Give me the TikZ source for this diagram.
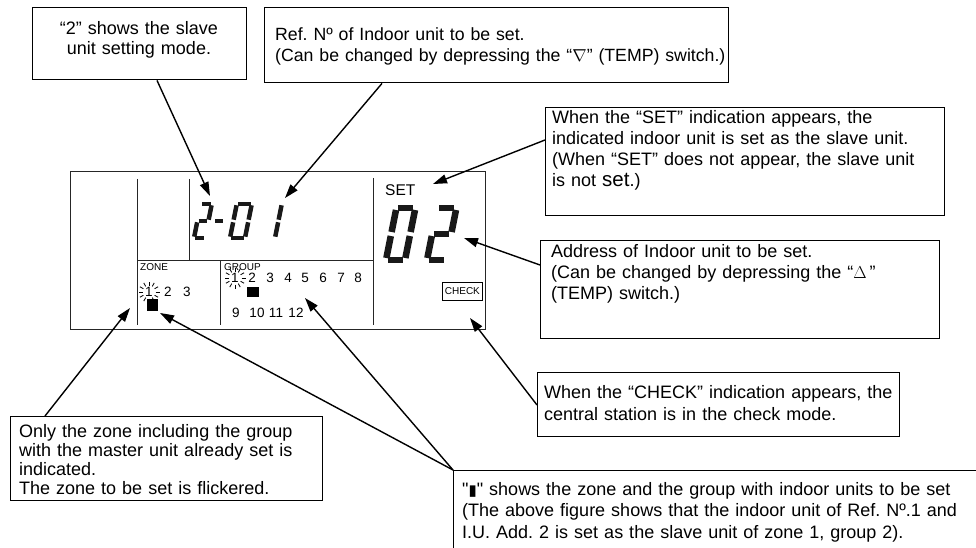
\documentclass[tikz,border=0pt]{standalone}
\usepackage{fontspec}
\setmainfont{Liberation Sans}[Ligatures=TeXOff]
\newfontfamily\dejavu{DejaVu Sans}
\usetikzlibrary{arrows.meta,calc}
\newcommand\segA{\draw[seg] (\dgG,\dgH) -- ({\dgW-\dgG},\dgH);}
\newcommand\segB{\draw[seg] (\dgW,{\dgH-\dgG}) -- (\dgW,{\dgH/2+\dgG});}
\newcommand\segC{\draw[seg] (\dgW,{\dgH/2-\dgG}) -- (\dgW,\dgG);}
\newcommand\segD{\draw[seg] (\dgG,0) -- ({\dgW-\dgG},0);}
\newcommand\segE{\draw[seg] (0,\dgG) -- (0,{\dgH/2-\dgG});}
\newcommand\segF{\draw[seg] (0,{\dgH/2+\dgG}) -- (0,{\dgH-\dgG});}
\newcommand\segG{\draw[seg] (\dgG,{\dgH/2}) -- ({\dgW-\dgG},{\dgH/2});}
\newcommand\burst[2]{\foreach \a in {0,30,...,330}{\draw[ray,shift={(#1,#2)}] (\a:6.5) -- (\a:10.5);}}
\frenchspacing
\begin{document}
\begin{tikzpicture}[x=1pt,y=-1pt,
  box/.style={draw, line width=1.4pt, inner sep=0pt, anchor=north west},
  txt/.style={inner sep=0pt, anchor=base west, align=left, text width=500pt, font=\fontsize{18}{20.7}\selectfont},
  ctxt/.style={inner sep=0pt, anchor=base, align=center, text width=214pt, font=\fontsize{18}{20}\selectfont},
  panel/.style={line width=0.9pt, draw=black!85},
  arr/.style={line width=1.4pt, -{Triangle[length=14pt,width=9pt]}},
  seg/.style={line width=\dgL, line cap=butt, draw=black!90},
  ray/.style={line width=0.8pt},
  lab/.style={inner sep=0pt, font=\fontsize{10}{10}\selectfont},
  num/.style={inner sep=0pt, font=\fontsize{13.5}{13.5}\selectfont},
]
\clip (0,0) rectangle (976,548);
\fill[white] (0,0) rectangle (976,548);

% ---- display panel
\draw[panel] (70,171) rectangle (485,329);
\draw[panel] (137,179) -- (137,325);
\draw[panel] (189,179) -- (189,260);
\draw[panel] (137,260) -- (373,260);
\draw[panel] (373,178) -- (373,325);
\draw[panel] (220,260) -- (220,325);

% small seven-segment "2-01"
\def\dgW{11}\def\dgH{34}\def\dgG{1.3}\def\dgL{4.5pt}
\begin{scope}[shift={(194,238)},x=1pt,y=1pt,xslant=0.2]
\segA\segB\segG\segE\segD
\end{scope}
\draw[seg] (215,221) -- (223,221);
\def\dgW{15}
\begin{scope}[shift={(230,238)},x=1pt,y=1pt,xslant=0.2]
\segA\segB\segC\segD\segE\segF
\end{scope}
\def\dgW{12}
\begin{scope}[shift={(263,238)},x=1pt,y=1pt,xslant=0.2]
\segB\segC
\end{scope}

% big seven-segment "02"
\def\dgW{19}\def\dgH{52}\def\dgG{2}\def\dgL{6.5pt}
\begin{scope}[shift={(386,260)},x=1pt,y=1pt,xslant=0.2]
\segA\segB\segC\segD\segE\segF
\end{scope}
\begin{scope}[shift={(427,260)},x=1pt,y=1pt,xslant=0.2]
\segA\segB\segG\segE\segD
\end{scope}

\node[inner sep=0pt, anchor=west, font=\fontsize{15.5}{15.5}\selectfont] (set) at (385,190.5) {SET};
\node[draw, line width=0.8pt, inner sep=0pt, minimum width=40pt, minimum height=18pt, anchor=north west, font=\fontsize{10}{10}\selectfont] (chk) at (442,282) {CHECK};

% zone / group
\node[lab, anchor=west] (zone) at (140,267) {ZONE};
\node[lab, anchor=west] (grp) at (224,267) {GROUP};
\node[num] (z1) at (149,292) {1};
\node[num] (z2) at (168,292) {2};
\node[num] (z3) at (187,292) {3};
\burst{149}{292}
\fill (147,299) rectangle (158,311);
\node[num] (g1) at (235,278) {1};
\node[num] (g2) at (252,278) {2};
\node[num] (g3) at (270,278) {3};
\node[num] (g4) at (288,278) {4};
\node[num] (g5) at (305,278) {5};
\node[num] (g6) at (323,278) {6};
\node[num] (g7) at (341,278) {7};
\node[num] (g8) at (358,278) {8};
\burst{235}{278}
\fill (247,287) rectangle (259,297);
\node[num] (g9) at (236,313) {9};
\node[num] (g10) at (257,313) {10};
\node[num] (g11) at (276,313) {11};
\node[num] (g12) at (296,313) {12};

% ---- callout boxes
\node[box, minimum width=214pt, minimum height=72pt] (b1) at (32,7) {};
\node[ctxt] (t1txt) at (139,35) {“2” shows the slave\\unit setting mode.};

\node[box, minimum width=464pt, minimum height=75pt] (b2) at (264,7) {};
\node[txt, font=\fontsize{17.7}{21}\selectfont] (t2txt) at (275,41) {Ref. Nº of Indoor unit to be set.\\(Can be changed by depressing the “$\nabla$” (TEMP) switch.)};

\node[box, minimum width=399pt, minimum height=108pt] (b3) at (545,107) {};
\node[txt] (t3txt) at (552,124) {When the “SET” indication appears, the\\indicated indoor unit is set as the slave unit.\\(When “SET” does not appear, the slave unit\\is not {\fontsize{20.5}{20.7}\selectfont set}.)};

\node[box, minimum width=399pt, minimum height=98pt] (b4) at (540,240) {};
\node[txt, font=\fontsize{18}{21}\selectfont] (t4txt) at (551,257) {Address of Indoor unit to be set.\\(Can be changed by depressing the “$\Delta$\,”\\(TEMP) switch.)};

\node[box, minimum width=362pt, minimum height=64pt] (b5) at (537,372) {};
\node[txt, font=\fontsize{18}{22}\selectfont] (t5txt) at (544,398) {When the “CHECK” indication appears, the\\central station is in the check mode.};

\node[box, minimum width=600pt, minimum height=120pt] (b6) at (453,470) {};
\node[txt, font=\fontsize{18}{21.5}\selectfont] (t6txt) at (462,495) {"{\dejavu\fontsize{15}{15}\selectfont ▮}" shows the zone and the group with indoor units to be set\\(The above figure shows that the indoor unit of Ref. Nº.1 and\\I.U. Add. 2 is set as the slave unit of zone 1, group 2).};

\node[box, minimum width=312pt, minimum height=84pt] (b7) at (10,416) {};
\node[txt, font=\fontsize{18}{19}\selectfont] (t7txt) at (19,437) {Only the zone including the group\\with the master unit already set is\\indicated.\\The zone to be set is flickered.};

% ---- connectors
\coordinate (s1) at ($(b1.south west)+(125,0)$);
\coordinate (s2) at ($(b2.south west)+(118,0)$);
\coordinate (s3) at ($(b3.north west)+(0,33)$);
\coordinate (s4) at ($(b4.north west)+(0,25)$);
\coordinate (s5) at ($(b5.north west)+(0,33)$);
\coordinate (s7) at ($(b7.north west)+(35,0)$);
\coordinate (tp1) at (210,196);
\coordinate (tp2) at (285,198);
\coordinate (tp3) at (433,184);
\coordinate (tp4) at (464,238);
\coordinate (tp5) at (470,318);
\coordinate (tp7) at (130,308);
\coordinate (tp6a) at (160,313);
\coordinate (tp6b) at (305,298);
\draw[arr] (s1) -- (tp1);
\draw[arr] (s2) -- (tp2);
\draw[arr] (s3) -- (tp3);
\draw[arr] (s4) -- (tp4);
\draw[arr] (s5) -- (tp5);
\draw[arr] (s7) -- (tp7);
\draw[arr] (b6.north west) -- (tp6a);
\draw[arr] (b6.north west) -- (tp6b);
\end{tikzpicture}
\end{document}
